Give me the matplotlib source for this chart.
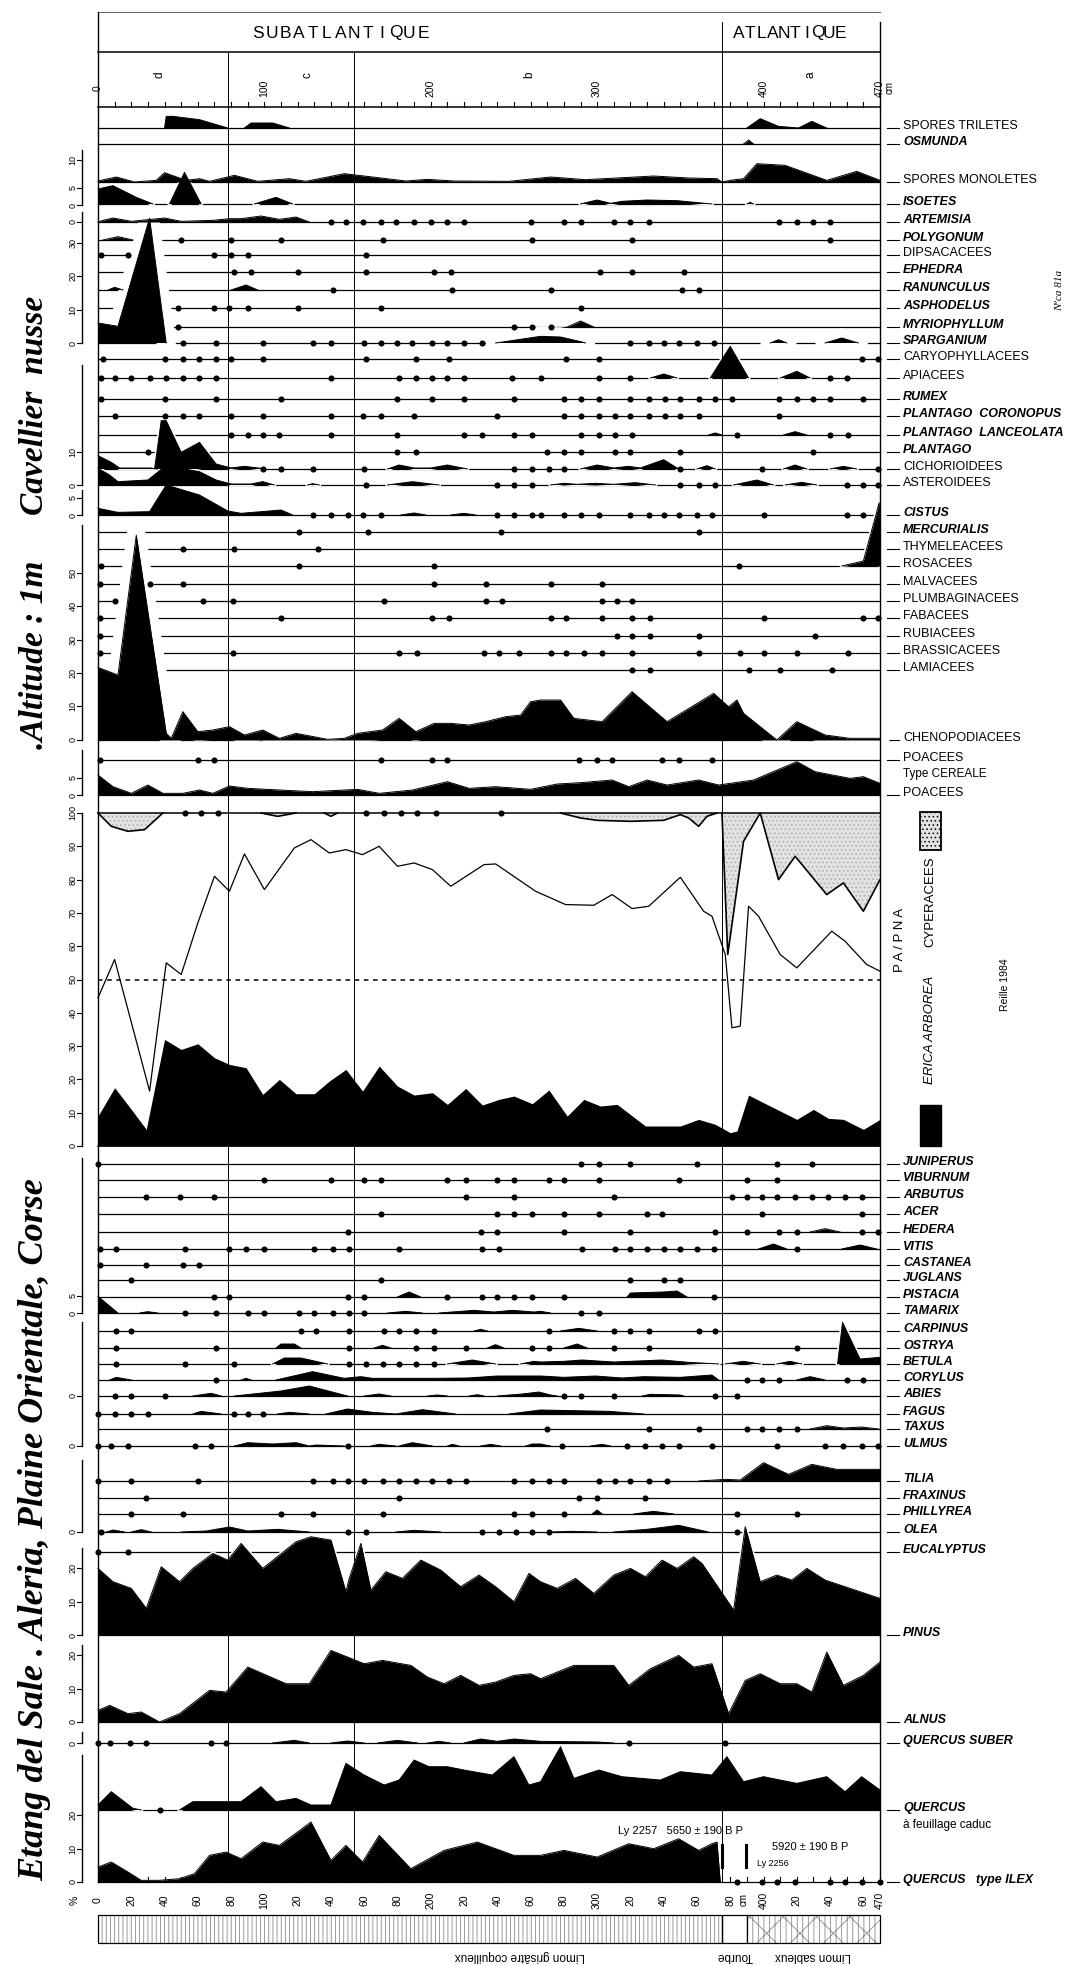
import numpy as np
import matplotlib
matplotlib.use("Agg")
import matplotlib.pyplot as plt
from matplotlib.patches import Rectangle

plt.rcParams['hatch.linewidth'] = 0.6
NARROW = ['Liberation Sans', 'DejaVu Sans']

########################################################################################################################
# Donnees : profondeur (cm), pourcentage (%)  -- courbes = (profondeur, %), points = profondeurs (< 1 %)
spores_triletes = [(40, 0), (41, 3.5), (45, 3.5), (61, 2.5), (78, 0), (88, 0), (92, 1.5), (105, 1.5), (115, 0),
                   (390, 0), (398, 2.8), (409, 0.5), (421, 0), (429, 2), (438, 0)]
osmunda = [(388, 0), (391, 1.2), (394, 0)]
spores_monoletes = [(0, 0.3), (11, 1.5), (22, 0), (35, 0.5), (40, 2.8), (53, 0.5), (61, 1), (67, 0.2), (82, 2),
                    (96, 0.2), (115, 1), (125, 0.2), (148, 2.5), (165, 1.5), (185, 0.3), (198, 0.8), (214, 0.3),
                    (247, 0.2), (272, 1.5), (293, 0.7), (334, 1.8), (355, 1.2), (372, 1), (375, 0), (380, 0.5),
                    (388, 1), (396, 5.5), (413, 5), (438, 0.5), (456, 3.2), (470, 0.5)]
isoetes = [(0, 4.5), (9, 5.5), (23, 2), (33, 0), (43, 0), (52, 9.5), (62, 0), (94, 0), (107, 2), (117, 0), (290, 0),
           (300, 1.2), (308, 0.2), (315, 0.8), (330, 1.2), (348, 1), (369, 0), (390, 0), (392, 0.5), (394, 0)]
artemisia = [(0, 0), (3, 0.5), (9, 1.2), (20, 0.2), (40, 1.2), (50, 0.2), (69, 0.5), (79, 1), (86, 1), (98, 1.8),
             (109, 0.8), (119, 1.5), (127, 0)]
artemisia_dots = [140, 149, 159, 170, 179, 190, 200, 210, 220, 260, 280, 290, 310, 320, 331, 409, 420, 430, 440]
polygonum = [(3, 0), (12, 1), (21, 0)]
polygonum_dots = [50, 80, 110, 171, 261, 321, 440]
dipsacacees_dots = [2, 18, 70, 80, 90, 161]
ephedra_dots = [82, 92, 120, 161, 202, 212, 302, 321, 352]
ranunculus = [(6, 0), (10, 0.8), (15, 0), (80, 0), (89, 1.5), (96, 0)]
ranunculus_dots = [141, 213, 272, 351, 361]
asphodelus_dots = [48, 70, 79, 90, 120, 170, 290]
myriophyllum = [(282, 0), (290, 1.8), (298, 0)]
myriophyllum_dots = [48, 250, 261, 272]
sparganium = [(0, 6), (12, 5), (31, 37.5), (41, 0), (239, 0), (266, 2), (278, 1.8), (291, 0.3), (293, 0), (404, 0),
              (409, 1), (414, 0), (437, 0), (447, 1.5), (457, 0)]
sparganium_dots = [51, 71, 99, 129, 140, 160, 170, 180, 189, 201, 210, 220, 231, 320, 331, 340, 349, 360, 370]
caryophyllacees_dots = [3, 40, 51, 61, 71, 80, 99, 161, 191, 211, 281, 301, 459, 469]
apiacees = [(332, 0), (340, 1.2), (348, 0), (368, 0), (380, 9.5), (391, 0), (410, 0), (420, 2), (428, 0)]
apiacees_dots = [2, 10, 20, 31, 41, 51, 61, 71, 140, 181, 191, 201, 210, 220, 249, 266, 301, 320, 440, 450]
rumex_dots = [2, 40, 71, 110, 180, 201, 220, 250, 280, 290, 301, 320, 331, 341, 350, 361, 371, 381, 409, 420, 430,
              440, 460]
pl_coronopus_dots = [10, 40, 51, 61, 80, 99, 140, 159, 170, 190, 240, 280, 290, 301, 311, 320, 331, 341, 350, 361,
                     409]
pl_lanceolata = [(367, 0), (371, 0.6), (375, 0), (412, 0), (419, 1), (426, 0)]
pl_lanceolata_dots = [80, 90, 99, 109, 140, 180, 220, 231, 250, 261, 290, 301, 311, 321, 384, 440, 451]
plantago_dots = [30, 180, 191, 270, 280, 290, 311, 320, 350, 430]
cichorioidees = [(0, 4), (8, 2), (13, 0.3), (32, 0.3), (34, 0), (38, 14.5), (41, 14.5), (50, 5), (61, 8), (71, 1.5),
                 (80, 0.3), (88, 0.8), (98, 0.2), (100, 0), (174, 0), (181, 1.2), (190, 0.3), (200, 0.3), (210, 1.2),
                 (222, 0), (290, 0), (300, 1.2), (310, 0.3), (319, 0.8), (326, 0.3), (340, 2.8), (349, 0), (360, 0),
                 (366, 1), (371, 0), (412, 0), (419, 1.2), (426, 0), (440, 0), (448, 0.8), (456, 0)]
cichorioidees_dots = [99, 110, 129, 160, 250, 261, 271, 280, 350, 399, 469]
asteroidees = [(0, 5), (7, 3), (12, 1), (30, 1.5), (40, 5.5), (50, 5), (61, 4), (71, 1.5), (80, 0.3), (92, 0.3),
               (99, 1), (106, 0), (126, 0), (129, 0.4), (133, 0), (174, 0), (189, 1), (205, 0), (272, 0), (280, 0.5),
               (288, 0.2), (299, 0.5), (310, 0.2), (323, 0.7), (335, 0), (382, 0), (396, 1.5), (406, 0), (413, 0),
               (423, 0.8), (432, 0)]
asteroidees_dots = [161, 240, 250, 261, 350, 361, 371, 450, 460, 469]
cistus = [(0, 2), (12, 0.8), (31, 1), (41, 9), (61, 6), (78, 1.2), (86, 0.5), (98, 1), (110, 1.5), (117, 0), (182, 0),
          (190, 0.6), (197, 0), (212, 0), (220, 0.5), (227, 0)]
cistus_dots = [129, 140, 150, 159, 170, 240, 250, 261, 266, 280, 290, 301, 320, 331, 340, 349, 360, 369, 400, 450,
               460]
mercurialis_dots = [121, 162, 242, 361]
thymeleacees_dots = [51, 82, 132]
rosacees = [(447, 0), (460, 1.5), (469.5, 19), (470, 0)]
rosacees_dots = [2, 121, 202, 385]
malvacees_dots = [1, 31, 51, 202, 233, 272, 303]
plumbaginacees_dots = [10, 63, 81, 172, 233, 243, 303, 312, 321]
fabacees_dots = [1, 110, 201, 211, 272, 281, 303, 321, 332, 400, 460, 469]
rubiacees_dots = [1, 312, 321, 332, 361, 431]
brassicacees_dots = [1, 81, 181, 192, 232, 241, 253, 272, 281, 292, 303, 321, 361, 386, 400, 420, 451]
lamiacees_dots = [321, 332, 391, 410, 441]
chenopodiacees = [(0, 21.8), (12, 19.5), (23, 61.5), (41, 2), (44, 0.5), (51, 8.5), (60, 2.5), (69, 3), (79, 4),
                  (88, 1.5), (99, 3), (109, 0.5), (119, 2), (138, 0.2), (148, 0.5), (156, 2), (171, 3), (181, 6.5),
                  (191, 2.5), (202, 5), (212, 5), (223, 4.5), (233, 5.5), (245, 7), (254, 7.5), (260, 11.5),
                  (266, 12), (278, 12), (286, 6.5), (303, 5.5), (321, 14.5), (342, 5.5), (370, 14), (379, 10),
                  (384, 12), (388, 8), (408, 0), (420, 5.5), (437, 1.5), (452, 0.5), (470, 0.5)]
poacees_cereale_dots = [1, 60, 70, 170, 201, 210, 289, 300, 309, 339, 349, 369]
poacees = [(0, 6), (9, 2.5), (20, 0.5), (30, 3), (39, 0.5), (51, 0.5), (61, 1.5), (69, 0.5), (79, 2.7), (90, 2),
           (109, 1.5), (129, 1), (156, 1.7), (169, 0.5), (189, 1.5), (210, 4), (223, 2), (239, 2.5), (260, 1.7),
           (276, 3.3), (290, 3.7), (309, 4.5), (319, 2.5), (330, 4.5), (342, 3), (361, 4.5), (373, 3), (394, 4.5),
           (420, 10), (431, 7), (452, 5), (460, 5.5), (470, 3.5)]

# PA/PNA
pa_ap = [(0, 44.5), (10, 56), (31, 16.5), (41, 55), (50, 51.5), (60, 67), (70, 81), (79, 76.5), (88, 87.7),
         (100, 77), (118, 89.5), (128, 92), (139, 88), (149, 89), (159, 87.5), (169, 90), (180, 84), (190, 85),
         (201, 83), (212, 78), (232, 84.5), (239, 84.7), (263, 76.5), (281, 72.5), (298, 72.3), (309, 75.5),
         (321, 71.3), (331, 72), (350, 80.7), (364, 70.5), (369, 69), (377, 57.5), (381, 35.5), (386, 36),
         (391, 72), (397, 69), (410, 57.5), (420, 53.5), (441, 64.5), (449, 61.5), (462, 54.5), (470, 52.5)]
cyperacees = [(0, 0), (8, 4), (18, 5.5), (28, 5), (39, 0), (98, 0), (108, 1), (119, 0), (136, 0), (140, 1),
              (144, 0), (278, 0), (290, 1.5), (300, 2.2), (320, 2.5), (340, 2.2), (350, 0.5), (355, 1.5), (361, 4),
              (366, 1), (372, 0), (375, 0), (378.5, 42.5), (388, 8.5), (398, 0), (409, 20), (419, 13), (438, 24.5),
              (448, 21), (460, 29.5), (470, 20)]
cyperacees_dots = [52, 62, 72, 161, 172, 182, 192, 203, 242]
erica = [(0, 9), (10, 17.5), (20, 11), (29, 5), (40, 32), (50, 29), (60, 30.7), (70, 26.5), (79, 24.5), (89, 23.5),
         (99, 15.5), (109, 20), (119, 15.7), (130, 15.7), (139, 19.5), (149, 23), (159, 16.5), (169, 24), (180, 18),
         (190, 15.3), (201, 16), (210, 12.5), (221, 17.3), (231, 12.3), (241, 14), (250, 15), (261, 12.7),
         (271, 16.8), (282, 9), (292, 14), (302, 12), (312, 12.5), (329, 6), (350, 6), (361, 8), (371, 6.5),
         (380, 4), (384, 4.5), (391, 15.3), (402, 12.5), (412, 10), (420, 8), (430, 11), (439, 8.3), (448, 8),
         (460, 5), (470, 8)]

# arbres
juniperus_dots = [0, 290, 301, 320, 360, 408, 429]
viburnum_dots = [100, 140, 160, 170, 210, 221, 240, 250, 271, 280, 301, 349, 390, 408]
arbutus_dots = [29, 49, 70, 221, 250, 310, 381, 390, 399, 408, 419, 429, 439, 449, 459]
acer_dots = [170, 240, 250, 261, 280, 301, 330, 339, 399, 459]
hedera = [(428, 0), (437, 1), (446, 0)]
hedera_dots = [150, 230, 240, 280, 320, 371, 390, 409, 420, 459, 469]
vitis = [(397, 0), (406, 1.5), (414, 0), (447, 0), (458, 1.2), (468, 0)]
vitis_dots = [1, 11, 52, 79, 89, 100, 130, 141, 151, 181, 231, 241, 291, 311, 320, 330, 340, 350, 360, 370, 420]
castanea_dots = [1, 29, 51, 61]
juglans_dots = [20, 170, 320, 340, 350]
pistacia = [(180, 0), (187, 1.5), (194, 0), (318, 0), (320, 1.2), (340, 1.5), (348, 1.8), (354, 0)]
pistacia_dots = [70, 79, 150, 160, 210, 231, 240, 250, 261, 280, 370]
tamarix = [(0, 5), (12, 0), (25, 0), (30, 0.4), (36, 0), (174, 0), (185, 0.5), (195, 0), (205, 0), (226, 0.8),
           (238, 0.3), (249, 0.8), (262, 0.3), (266, 0.5), (272, 0)]
tamarix_dots = [52, 71, 90, 100, 121, 130, 141, 151, 160, 290, 301]
carpinus = [(226, 0), (230, 0.5), (234, 0), (278, 0), (289, 0.8), (300, 0)]
carpinus_dots = [11, 20, 122, 131, 151, 172, 181, 191, 202, 271, 310, 320, 331, 361, 371]
ostrya = [(107, 0), (110, 1.2), (118, 1.2), (122, 0), (166, 0), (171, 0.8), (176, 0), (234, 0), (239, 1), (244, 0),
          (280, 0), (288, 1.2), (294, 0)]
ostrya_dots = [11, 71, 151, 191, 202, 221, 261, 271, 310, 331, 420]
betula = [(105, 0), (112, 1.8), (122, 1.8), (138, 0), (210, 0), (225, 1.2), (239, 0), (254, 0), (262, 0.8),
          (266, 0.6), (280, 0.8), (291, 1.2), (310, 0.6), (339, 1.2), (355, 0.5), (373, 0), (377, 0), (388, 0.8),
          (398, 0), (408, 0), (416, 0.8), (423, 0), (444.5, 0), (447.5, 12.5), (458, 1.5), (470, 2)]
betula_dots = [11, 52, 82, 151, 161, 171, 181, 191, 202]
corylus = [(7, 0), (11, 0.8), (20, 0), (86, 0), (89, 0.5), (92, 0), (107, 0), (129, 2.5), (148, 0.5), (158, 1),
           (165, 0.5), (200, 0.5), (222, 0.6), (240, 1.2), (266, 1.2), (280, 0.8), (299, 1.2), (315, 0.6),
           (328, 1), (350, 0.8), (369, 1.5), (373, 0), (420, 0), (428, 1), (437, 0)]
corylus_dots = [71, 390, 399, 409, 450, 460]
abies = [(57, 0), (68, 0.8), (74, 0), (82, 0), (110, 1.5), (127, 3), (150, 0), (160, 0), (169, 0.6), (176, 0),
         (198, 0), (204, 0.3), (210, 0), (223, 0), (228, 0.4), (232, 0), (240, 0), (255, 0.6), (265, 1.2),
         (272, 0.3), (276, 0), (327, 0), (332, 0.5), (350, 0.3), (352, 0)]
abies_dots = [10, 20, 40, 280, 290, 310, 371, 384]
fagus = [(57, 0), (62, 0.8), (74, 0), (108, 0), (115, 0.5), (127, 0), (137, 0), (150, 1.5), (165, 0.5), (179, 0),
         (195, 1.3), (215, 0), (247, 0), (266, 1.2), (286, 1), (307, 0.8), (328, 0)]
fagus_dots = [0, 10, 20, 30, 82, 90, 99]
taxus = [(428, 0), (438, 1), (448, 0.3), (459, 0.6), (469, 0)]
taxus_dots = [270, 331, 361, 390, 399, 409, 420]
ulmus = [(82, 0), (90, 1), (105, 0.6), (119, 1), (127, 0), (131, 0.3), (148, 0), (164, 0), (169, 0.5), (179, 0),
         (181, 0), (189, 1), (201, 0), (210, 0), (213, 0.5), (217, 0), (230, 0), (236, 0.5), (242, 0), (257, 0),
         (261, 0.6), (266, 0.6), (272, 0), (296, 0), (303, 0.5), (308, 0)]
ulmus_dots = [0, 8, 18, 58, 68, 150, 279, 318, 329, 339, 349, 369, 408, 437, 448, 459, 469]
tilia = [(361, 0), (377, 0.5), (386, 0.3), (400, 5.5), (415, 2), (429, 5), (444, 3.5), (470, 3.5)]
tilia_dots = [0, 20, 60, 129, 141, 150, 160, 171, 181, 191, 201, 211, 221, 250, 261, 271, 280, 301, 311, 320, 331,
              342]
fraxinus_dots = [29, 181, 289, 300, 329]
phillyrea = [(297, 0), (300, 1.2), (303, 0), (322, 0), (334, 0.8), (346, 0)]
phillyrea_dots = [20, 51, 110, 129, 171, 250, 261, 280, 384, 420]
olea = [(5, 0), (9, 0.6), (16, 0), (20, 0), (26, 0.7), (32, 0), (50, 0), (65, 0.3), (79, 1.5), (90, 0.3),
        (108, 0.8), (127, 0), (179, 0), (190, 0.5), (206, 0), (272, 0), (285, 0.2), (300, 0), (310, 0), (330, 0.8),
        (349, 2), (367, 0)]
olea_dots = [2, 150, 161, 231, 241, 251, 261, 271, 384]
eucalyptus_dots = [0, 18]
pinus = [(0, 20), (9, 16), (20, 14), (29, 8), (38, 20.5), (49, 16), (57, 20), (69, 24.5), (78, 22.5), (86, 27.5),
         (99, 20), (119, 28), (128, 29.5), (140, 28.5), (149, 13), (151, 17), (158, 27.5), (164, 13.5), (173, 19),
         (183, 17), (194, 22.5), (206, 19.5), (218, 14.5), (229, 18), (239, 14.5), (250, 10), (259, 18.5),
         (266, 16), (276, 14), (287, 17), (298, 12.5), (310, 18), (320, 20), (329, 17.5), (339, 22.5), (348, 20),
         (358, 23.5), (363, 21.5), (382, 7.5), (389, 32.5), (398, 16), (408, 18), (417, 16.5), (426, 20),
         (437, 16.5), (470, 11)]
alnus = [(0, 3.5), (7, 5), (18, 2.5), (26, 3), (37, 0), (49, 2.5), (67, 9.5), (77, 9), (90, 16.5), (113, 11.5),
         (127, 11.5), (140, 21.5), (150, 19.5), (160, 17.5), (171, 18.5), (188, 17), (198, 13.5), (208, 11.5),
         (218, 14), (229, 11), (239, 12), (250, 14), (260, 14.5), (266, 13), (286, 17), (310, 17), (319, 11),
         (332, 16), (349, 20), (358, 16.5), (369, 17.5), (379, 2.5), (389, 12.5), (398, 14.5), (410, 11.5),
         (420, 11.5), (429, 9), (438, 21), (448, 11), (460, 14), (470, 18)]
q_suber = [(105, 0), (118, 0.8), (127, 0), (140, 0), (150, 0.6), (160, 0), (168, 0), (180, 0.8), (192, 0), (198, 0),
           (205, 0.5), (212, 0), (220, 0), (230, 1.2), (240, 0.5), (250, 1.2), (266, 0.5), (300, 0.3), (310, 0)]
q_suber_dots = [0, 7, 19, 29, 68, 77, 319, 377]
q_caduc = [(0, 1.5), (8, 5.5), (21, 0.5), (26, 0), (49, 0), (57, 2.5), (86, 2.5), (98, 7), (107, 2.5), (119, 3.5),
           (128, 1.5), (140, 1.5), (149, 14), (160, 10.5), (172, 7.5), (181, 9), (190, 15), (199, 13), (210, 13),
           (220, 12), (237, 10.5), (250, 16), (259, 7.5), (266, 8.5), (278, 19), (286, 9.5), (301, 12), (315, 10),
           (338, 9), (350, 11.5), (369, 10.5), (378, 16), (388, 8.5), (400, 10), (420, 8), (438, 10), (449, 5.5),
           (459, 10), (470, 6)]
q_caduc_dots = [37]
q_ilex = [(0, 4.5), (8, 6), (18, 3), (26, 0.5), (37, 0.5), (49, 1), (58, 2.5), (67, 8), (77, 9), (86, 7), (99, 12),
          (109, 11), (128, 18), (140, 6.5), (149, 11), (159, 6), (169, 14), (188, 4), (208, 9.5), (228, 12),
          (250, 8), (266, 8), (280, 9.5), (300, 7.5), (319, 11.5), (334, 10), (349, 13), (361, 9.5), (369, 11.5),
          (372, 12), (374, 0)]
q_ilex_dots = [384, 399, 408, 419, 440, 449, 459, 470]

zones = [78, 154, 375]
zone_letters = [('d', 37), ('c', 126), ('b', 259), ('a', 428)]
litho = [('Limon grisâtre coquilleux', 0, 375), ('Tourbe', 375, 390), ('Limon sableux', 390, 470)]

########################################################################################################################
# Mise en page (pixels de la figure)
W, H = 1080, 1966
X0, X1, DMAX = 98, 880, 470
PXCM = (X1 - X0) / DMAX
K = 3.33            # pixels par %
AXL = 82            # axe des echelles a gauche


def px(xpix):
    return (xpix - X0) / PXCM


# (nom, y, courbe, points, italique, halo, z)
rows = [
    ('SPORES TRILETES', 128, spores_triletes, [], False, 0, 3),
    ('OSMUNDA', 144, osmunda, [], True, 0, 3),
    ('SPORES MONOLETES', 182, spores_monoletes, [], False, 0, 3),
    ('ISOETES', 204, isoetes, [], True, 3, 3),
    ('ARTEMISIA', 222, artemisia, artemisia_dots, True, 0, 3),
    ('POLYGONUM', 240, polygonum, polygonum_dots, True, 0, 3),
    ('DIPSACACEES', 255, [], dipsacacees_dots, False, 0, 3),
    ('EPHEDRA', 272, [], ephedra_dots, True, 0, 3),
    ('RANUNCULUS', 290, ranunculus, ranunculus_dots, True, 0, 3),
    ('ASPHODELUS', 308, [], asphodelus_dots, True, 0, 3),
    ('MYRIOPHYLLUM', 327, myriophyllum, myriophyllum_dots, True, 0, 3),
    ('SPARGANIUM', 343, sparganium, sparganium_dots, True, 14, 3),
    ('CARYOPHYLLACEES', 359, [], caryophyllacees_dots, False, 0, 3),
    ('APIACEES', 378, apiacees, apiacees_dots, False, 3, 3),
    ('RUMEX', 399, [], rumex_dots, True, 0, 3),
    ('PLANTAGO  CORONOPUS', 416, [], pl_coronopus_dots, True, 0, 3),
    ('PLANTAGO  LANCEOLATA', 435, pl_lanceolata, pl_lanceolata_dots, True, 0, 3),
    ('PLANTAGO', 452, [], plantago_dots, True, 0, 3),
    ('CICHORIOIDEES', 469, cichorioidees, cichorioidees_dots, False, 3, 5),
    ('ASTEROIDEES', 485, asteroidees, asteroidees_dots, False, 3, 4),
    ('CISTUS', 515, cistus, cistus_dots, True, 0, 3),
    ('MERCURIALIS', 532, [], mercurialis_dots, True, 0, 3),
    ('THYMELEACEES', 549, [], thymeleacees_dots, False, 0, 3),
    ('ROSACEES', 566, rosacees, rosacees_dots, False, 3, 3),
    ('MALVACEES', 584, [], malvacees_dots, False, 0, 3),
    ('PLUMBAGINACEES', 601, [], plumbaginacees_dots, False, 0, 3),
    ('FABACEES', 618, [], fabacees_dots, False, 0, 3),
    ('RUBIACEES', 636, [], rubiacees_dots, False, 0, 3),
    ('BRASSICACEES', 653, [], brassicacees_dots, False, 0, 3),
    ('LAMIACEES', 670, [], lamiacees_dots, False, 0, 3),
    ('CHENOPODIACEES', 740, chenopodiacees, [], False, 14, 3),
    ('POACEES', 760, [], poacees_cereale_dots, False, 0, 3),
    ('POACEES', 795, poacees, [], False, 0, 3),
    ('JUNIPERUS', 1164, [], juniperus_dots, True, 0, 3),
    ('VIBURNUM', 1180, [], viburnum_dots, True, 0, 3),
    ('ARBUTUS', 1197, [], arbutus_dots, True, 0, 3),
    ('ACER', 1214, [], acer_dots, True, 0, 3),
    ('HEDERA', 1232, hedera, hedera_dots, True, 0, 3),
    ('VITIS', 1249, vitis, vitis_dots, True, 0, 3),
    ('CASTANEA', 1265, [], castanea_dots, True, 0, 3),
    ('JUGLANS', 1280, [], juglans_dots, True, 0, 3),
    ('PISTACIA', 1297, pistacia, pistacia_dots, True, 0, 3),
    ('TAMARIX', 1313, tamarix, tamarix_dots, True, 0, 3),
    ('CARPINUS', 1331, carpinus, carpinus_dots, True, 0, 3),
    ('OSTRYA', 1348, ostrya, ostrya_dots, True, 0, 3),
    ('BETULA', 1364, betula, betula_dots, True, 3, 3),
    ('CORYLUS', 1380, corylus, corylus_dots, True, 0, 3),
    ('ABIES', 1396, abies, abies_dots, True, 0, 3),
    ('FAGUS', 1414, fagus, fagus_dots, True, 0, 3),
    ('TAXUS', 1429, taxus, taxus_dots, True, 0, 3),
    ('ULMUS', 1446, ulmus, ulmus_dots, True, 0, 3),
    ('TILIA', 1481, tilia, tilia_dots, True, 0, 3),
    ('FRAXINUS', 1498, [], fraxinus_dots, True, 0, 3),
    ('PHILLYREA', 1514, phillyrea, phillyrea_dots, True, 0, 3),
    ('OLEA', 1532, olea, olea_dots, True, 0, 3),
    ('EUCALYPTUS', 1552, [], eucalyptus_dots, True, 0, 3),
    ('PINUS', 1635, pinus, [], True, 3, 3),
    ('ALNUS', 1722, alnus, [], True, 0, 3),
    ('QUERCUS SUBER', 1743, q_suber, q_suber_dots, True, 0, 3),
    ('QUERCUS', 1810, q_caduc, q_caduc_dots, True, 3, 3),
    ('QUERCUS   type ILEX', 1882, q_ilex, q_ilex_dots, True, 0, 3),
]

# echelles a gauche : (haut, bas, [(y, texte)])
left_axes = [
    (150, 205, [(205, '0'), (188, '5'), (160, '10')]),
    (212, 343, [(343, '0'), (310, '10'), (276, '20'), (243, '30'), (222, '0')]),
    (365, 485, [(485, '0'), (452, '10')]),
    (490, 515, [(515, '0'), (498, '5')]),
    (525, 740, [(740, '0'), (706, '10'), (673, '20'), (640, '30'), (606, '40'), (573, '50')]),
    (750, 795, [(795, '0'), (778, '5')]),
    (1158, 1313, [(1313, '0'), (1296, '5')]),
    (1322, 1446, [(1396, '0'), (1446, '0')]),
    (1460, 1532, [(1532, '0')]),
    (1548, 1635, [(1635, '0'), (1602, '10'), (1568, '20')]),
    (1645, 1722, [(1722, '0'), (1689, '10'), (1655, '20')]),
    (1732, 1743, [(1743, '0')]),
    (1755, 1882, [(1882, '0'), (1849, '10'), (1815, '20')]),
]

########################################################################################################################
fig = plt.figure(figsize=(W / 100, H / 100), dpi=100)
ax = fig.add_axes([0, 0, 1, 1])
ax.set_xlim(px(0), px(W))
ax.set_ylim(H, 0)
ax.axis('off')


def split(pts):
    d, v = [], []
    for i, (a, b) in enumerate(pts):
        if i and b == 0 and pts[i - 1][1] == 0:
            d.append(np.nan)
            v.append(np.nan)
        d.append(a)
        v.append(b)
    return np.array(d, float), np.array(v, float)


def courbe(pts, y, halo=0, z=3):
    d, v = split(pts)
    top = y - v * K
    if halo:
        ax.plot(d, top, color='white', lw=halo, zorder=z - 0.1, solid_capstyle='round')
    ax.fill_between(d, y, top, color='k', lw=0, zorder=z)
    ax.plot(d, top, color='k', lw=0.7, zorder=z)


# cadre et zones
ax.plot([0, DMAX], [12, 12], color='#666', lw=0.7)
ax.plot([0, DMAX], [52, 52], color='k', lw=1.1)
ax.plot([0, 0], [12, 1882], color='k', lw=1.0, zorder=6)
ax.plot([DMAX, DMAX], [22, 1882], color='k', lw=1.0, zorder=6)
for zd in zones:
    ax.plot([zd, zd], [22 if zd == 375 else 52, 1882], color='k', lw=0.7, zorder=6)

for i, ch in enumerate('SUBATLANTIQUE'):
    ax.text(px(np.linspace(258, 423, 13)[i]), 33, ch, ha='center', va='center', fontsize=12.5, family=NARROW)
for i, ch in enumerate('ATLANTIQUE'):
    ax.text(px(np.linspace(739, 840, 10)[i]), 33, ch, ha='center', va='center', fontsize=12.5, family=NARROW)

# axe du haut
ax.plot([0, DMAX], [107, 107], color='k', lw=1.1)
for t in range(0, DMAX + 1, 10):
    ax.plot([t, t], [107, 102], color='k', lw=0.8)
for t, lab in [(0, '0'), (100, '100'), (200, '200'), (300, '300'), (400, '400'), (470, '470')]:
    ax.text(t, 88, lab, rotation=90, ha='center', va='center', fontsize=7.5, family=NARROW)
ax.text(476, 88, 'cm', rotation=90, ha='center', va='center', fontsize=7, family=NARROW)
for lab, zd in zone_letters:
    ax.text(zd, 75, lab, rotation=90, ha='center', va='center', fontsize=8.5, family=NARROW)

# taxons
xlab = px(903)
for name, y, pts, dots, ital, halo, z in rows:
    ax.plot([0, DMAX], [y, y], color='k', lw=0.9, zorder=1)
    if pts:
        courbe(pts, y, halo, z)
    if dots:
        ax.plot(dots, [y] * len(dots), 'o', ms=4.4, color='k', mec='none', zorder=7)
    ax.plot([px(887), px(899)], [y, y], color='k', lw=0.8, clip_on=False)
    ax.text(xlab, y + 1, name, ha='left', va='baseline', fontsize=9, family=NARROW,
            style='italic' if ital else 'normal', weight='bold' if ital else 'normal')
ax.text(xlab, 777, 'Type CEREALE', ha='left', va='baseline', fontsize=8.5, family=NARROW)
ax.text(xlab, 1828, 'à feuillage caduc', ha='left', va='baseline', fontsize=8.5, family=NARROW)

# PA / PNA
ytop, ybot = 813, 1146
ax.plot([0, DMAX], [ytop, ytop], color='k', lw=1.1, zorder=6)
ax.plot([0, DMAX], [ybot, ybot], color='k', lw=1.1, zorder=6)
ax.plot([0, DMAX], [ybot - 50 * K] * 2, color='k', lw=1.1, ls=(0, (3, 3)), zorder=4)
d, v = split(cyperacees)
ax.fill_between(d, ytop, ytop + v * K, facecolor='#e2e2e2', edgecolor='#aaa', hatch='....', lw=0, zorder=2)
ax.plot(d, ytop + v * K, color='k', lw=1.2, zorder=3)
ax.plot(cyperacees_dots, [ytop] * len(cyperacees_dots), 'o', ms=4.4, color='k', mec='none', zorder=7)
ed, ev = split(erica)
ax.fill_between(ed, ybot, ybot - ev * K, color='k', lw=0, zorder=3)
ad, av = split(pa_ap)
ax.plot(ad, ybot - av * K, color='k', lw=0.9, zorder=4)
ax.plot([px(AXL)] * 2, [ytop, ybot], color='k', lw=1.0)
for p in range(0, 101, 10):
    yy = ybot - p * K
    ax.plot([px(AXL - 5), px(AXL)], [yy, yy], color='k', lw=0.8)
    ax.text(px(73), yy, str(p), rotation=90, ha='center', va='center', fontsize=6.5, family=NARROW)

ax.add_patch(Rectangle((px(920), 812), px(941) - px(920), 38, facecolor='#e2e2e2', edgecolor='k', lw=1.3,
                       hatch='....'))
ax.add_patch(Rectangle((px(920), 1105), px(941) - px(920), 41, facecolor='k', edgecolor='k', lw=1))
ax.text(px(930), 902, 'CYPERACEES', rotation=90, ha='center', va='center', fontsize=9.5, family=NARROW)
ax.text(px(930), 1030, 'ERICA ARBOREA', rotation=90, ha='center', va='center', fontsize=9.5, family=NARROW,
        style='italic')
ax.text(px(900), 940, 'P A / P N A', rotation=90, ha='center', va='center', fontsize=9.5, family=NARROW)
ax.text(px(1005), 985, 'Reille 1984', rotation=90, ha='center', va='center', fontsize=7.5, family=NARROW)
ax.text(px(1060), 290, 'Nºca 81a', rotation=90, ha='center', va='center', fontsize=8, style='italic',
        family='Liberation Serif')

# echelles de gauche
for y0, y1, ticks in left_axes:
    ax.plot([px(AXL)] * 2, [y0, y1], color='k', lw=1.0)
    for yy, lab in ticks:
        ax.plot([px(AXL - 5), px(AXL)], [yy, yy], color='k', lw=0.8)
        ax.text(px(73), yy, lab, rotation=90, ha='center', va='center', fontsize=6.5, family=NARROW)

# axe du bas
yb = 1882
for t in range(0, DMAX + 1, 10):
    ax.plot([t, t], [yb, yb - 5], color='k', lw=0.8)
for t in list(range(0, 461, 20)) + [470]:
    lab = str(t) if (t % 100 == 0 or t == 470) else str(t % 100)
    ax.text(t, 1900, lab, rotation=90, ha='center', va='center', fontsize=7.5, family=NARROW)
ax.text(388, 1900, 'cm', rotation=90, ha='center', va='center', fontsize=7, family=NARROW)
ax.text(px(75), 1900, '%', rotation=90, ha='center', va='center', fontsize=7.5, family=NARROW)

# lithologie
for lab, a, b in litho:
    if lab != 'Tourbe':
        ax.add_patch(Rectangle((a, 1915), b - a, 28, facecolor='white', edgecolor='#8a8a8a', lw=0,
                               hatch='||||' if a == 0 else '|||x'))
    ax.add_patch(Rectangle((a, 1915), b - a, 28, facecolor='none', edgecolor='k', lw=0.9))
    ax.text((a + b) / 2 if lab != 'Limon grisâtre coquilleux' else px(520), 1956, lab, rotation=180,
            ha='center', va='center', fontsize=8.5, family=NARROW)

# datations
ax.text(px(680), 1831, 'Ly 2257   5650 ± 190 B P', ha='center', va='center', fontsize=8, family=NARROW)
ax.text(px(810), 1847, '5920 ± 190 B P', ha='center', va='center', fontsize=8, family=NARROW)
ax.text(px(773), 1864, 'Ly 2256', ha='center', va='center', fontsize=6.5, family=NARROW)
for xb in [722, 746]:
    ax.plot([px(xb)] * 2, [1845, 1867], color='k', lw=2.2)

# titres manuscrits
SCRIPT = dict(rotation=90, ha='center', va='center', family='Liberation Serif', style='italic', weight='bold')
ax.text(px(35), 1530, 'Etang del Sale . Aleria, Plaine Orientale, Corse', fontsize=26, **SCRIPT)
ax.text(px(35), 655, '.Altitude : 1m', fontsize=24, **SCRIPT)
ax.text(px(35), 405, 'Cavellier  nusse', fontsize=24, **SCRIPT)

fig.savefig('out.png', dpi=100, facecolor='white')
